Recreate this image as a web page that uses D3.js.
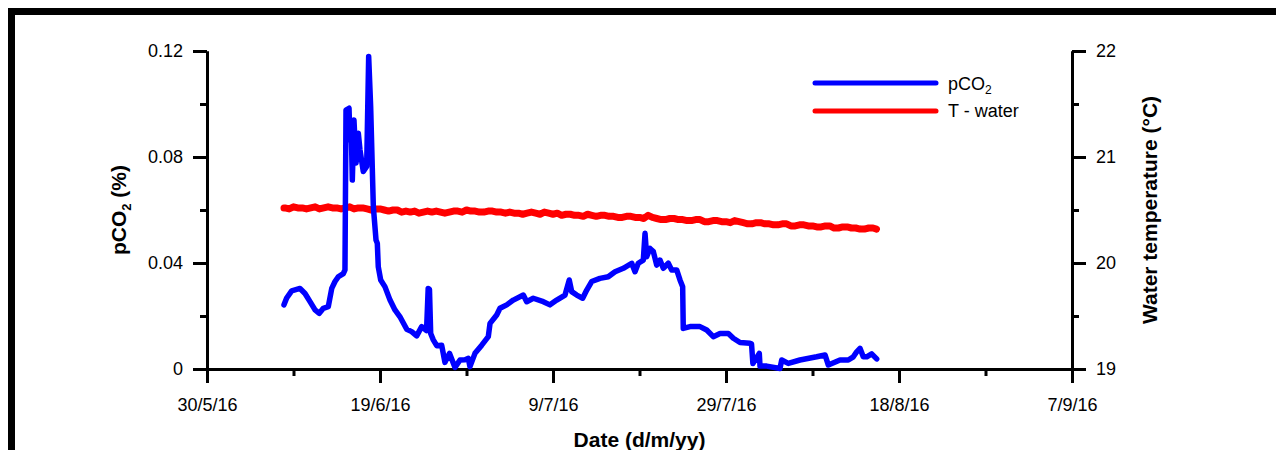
<!DOCTYPE html>
<html>
<head>
<meta charset="utf-8">
<script src="https://cdn.jsdelivr.net/npm/d3@7"></script>
<style>
  html, body { margin: 0; padding: 0; background: #fff; }
  svg { display: block; font-family: Arial, "Liberation Sans", sans-serif; }
</style>
</head>
<body>
<svg id="chart" width="1276" height="450"></svg>
<script>
// ---------------- DATA ----------------
const startDateStr = "2016-05-30";
const endDateStr = "2016-09-07";
const majorTickDates = ["2016-05-30", "2016-06-19", "2016-07-09", "2016-07-29", "2016-08-18", "2016-09-07"];
const minorTickDates = ["2016-06-09", "2016-06-29", "2016-07-19", "2016-08-08", "2016-08-28"];
const pco2Ticks = [0, 0.04, 0.08, 0.12];
const pco2MinorTicks = [0.02, 0.06, 0.10];
const tempTicks = [19, 20, 21, 22];
const tempMinorTicks = [19.5, 20.5, 21.5];

// pCO2 (%) : days since 30/5/16 and values
const pco2Days = [8.90, 9.21, 9.79, 10.75, 11.33, 11.91, 12.49, 12.98, 13.45, 14.02, 14.42, 14.80, 15.18, 15.76, 15.95,
  16.07, 16.42, 16.53, 16.65, 16.80, 16.99, 17.23, 17.49, 17.69, 18.07, 18.46, 18.69, 18.92, 19.23, 19.54, 19.69, 19.80,
  20.08, 20.58, 21.16, 21.73, 22.31, 22.51, 23.09, 23.66, 24.24, 24.82, 25.38, 25.57, 25.72, 25.86, 26.16, 26.56, 27.13,
  27.51, 28.03, 28.67, 29.25, 29.83, 30.21, 30.40, 30.98, 31.76, 32.52, 32.72, 33.49, 33.87, 34.65, 35.41, 36.57, 36.96,
  37.72, 38.88, 39.65, 40.43, 41.39, 41.88, 42.16, 42.74, 43.43, 43.90, 44.47, 45.43, 46.39, 47.17, 48.13, 49.10, 49.48,
  49.86, 50.44, 50.64, 50.83, 51.21, 51.60, 51.99, 52.37, 52.75, 53.33, 53.72, 54.30, 54.68, 54.99, 55.06, 55.84, 56.99,
  57.77, 58.53, 59.31, 60.27, 60.85, 61.62, 62.77, 62.95, 63.11, 63.85, 63.93, 64.71, 66.24, 66.44, 67.20, 68.55, 70.48,
  71.45, 71.83, 73.18, 74.14, 74.72, 75.11, 75.49, 75.87, 76.27, 76.84, 77.42];
const pco2Values = [0.0242, 0.0268, 0.0295, 0.0304, 0.0285, 0.0254, 0.0223, 0.0210, 0.0229, 0.0235, 0.0304, 0.0330, 0.0348, 0.0360, 0.0374,
  0.0977, 0.0984, 0.0864, 0.0940, 0.0713, 0.0940, 0.0777, 0.0890, 0.0826, 0.0745, 0.0764, 0.1179, 0.0990, 0.0612, 0.0487, 0.0474, 0.0386,
  0.0336, 0.0310, 0.0260, 0.0223, 0.0197, 0.0185, 0.0150, 0.0141, 0.0125, 0.0160, 0.0145, 0.0304, 0.0300, 0.0134, 0.0110, 0.0088, 0.0090,
  0.0025, 0.0059, 0.0006, 0.0034, 0.0035, 0.0040, 0.0009, 0.0059, 0.0090, 0.0122, 0.0172, 0.0204, 0.0229, 0.0242, 0.0260, 0.0279, 0.0254,
  0.0267, 0.0254, 0.0242, 0.0260, 0.0279, 0.0336, 0.0292, 0.0279, 0.0267, 0.0298, 0.0330, 0.0342, 0.0348, 0.0367, 0.0380, 0.0399, 0.0367,
  0.0399, 0.0411, 0.0512, 0.0424, 0.0455, 0.0443, 0.0392, 0.0411, 0.0380, 0.0399, 0.0374, 0.0374, 0.0336, 0.0310, 0.0153, 0.0160, 0.0160,
  0.0147, 0.0122, 0.0134, 0.0134, 0.0116, 0.0100, 0.0097, 0.0095, 0.0021, 0.0059, 0.0011, 0.0011, 0.0002, 0.0034, 0.0021, 0.0034, 0.0046,
  0.0053, 0.0015, 0.0034, 0.0034, 0.0046, 0.0065, 0.0078, 0.0046, 0.0046, 0.0057, 0.0038];

// Water temperature (°C): days since 30/5/16 and values
const tempDays = [8.9,
  9, 9.5, 10, 10.5, 11, 11.5, 12, 12.5, 13, 13.5, 14, 14.5, 15, 15.5, 16, 16.5, 17, 17.5, 18, 18.5,
  19, 19.5, 20, 20.5, 21, 21.5, 22, 22.5, 23, 23.5, 24, 24.5, 25, 25.5, 26, 26.5, 27, 27.5, 28, 28.5,
  29, 29.5, 30, 30.5, 31, 31.5, 32, 32.5, 33, 33.5, 34, 34.5, 35, 35.5, 36, 36.5, 37, 37.5, 38, 38.5,
  39, 39.5, 40, 40.5, 41, 41.5, 42, 42.5, 43, 43.5, 44, 44.5, 45, 45.5, 46, 46.5, 47, 47.5, 48, 48.5,
  49, 49.5, 50, 50.5, 51, 51.5, 52, 52.5, 53, 53.5, 54, 54.5, 55, 55.5, 56, 56.5, 57, 57.5, 58, 58.5,
  59, 59.5, 60, 60.5, 61, 61.5, 62, 62.5, 63, 63.5, 64, 64.5, 65, 65.5, 66, 66.5, 67, 67.5, 68, 68.5,
  69, 69.5, 70, 70.5, 71, 71.5, 72, 72.5, 73, 73.5, 74, 74.5, 75, 75.5, 76, 76.5, 77, 77.4];
const tempValues = [20.52,
  20.52, 20.51, 20.53, 20.52, 20.52, 20.51, 20.52, 20.53, 20.51, 20.52, 20.53, 20.52, 20.52, 20.51, 20.52, 20.53, 20.51, 20.52, 20.52, 20.51,
  20.50, 20.51, 20.51, 20.50, 20.49, 20.50, 20.50, 20.48, 20.49, 20.48, 20.49, 20.47, 20.48, 20.49, 20.48, 20.49, 20.48, 20.47, 20.48, 20.49,
  20.49, 20.48, 20.50, 20.49, 20.49, 20.48, 20.48, 20.49, 20.49, 20.48, 20.48, 20.47, 20.48, 20.47, 20.47, 20.46, 20.47, 20.48, 20.47, 20.46,
  20.48, 20.47, 20.46, 20.47, 20.45, 20.46, 20.46, 20.45, 20.45, 20.44, 20.46, 20.45, 20.44, 20.45, 20.45, 20.44, 20.44, 20.43, 20.43, 20.44,
  20.44, 20.43, 20.43, 20.42, 20.45, 20.43, 20.42, 20.41, 20.41, 20.42, 20.42, 20.41, 20.41, 20.40, 20.40, 20.41, 20.41, 20.39, 20.39, 20.40,
  20.40, 20.39, 20.39, 20.38, 20.40, 20.39, 20.38, 20.37, 20.37, 20.38, 20.38, 20.37, 20.37, 20.36, 20.36, 20.37, 20.37, 20.35, 20.35, 20.36,
  20.36, 20.35, 20.35, 20.34, 20.34, 20.35, 20.35, 20.33, 20.33, 20.34, 20.34, 20.33, 20.33, 20.32, 20.32, 20.33, 20.33, 20.32];

// ---------------- CHART ----------------
const parse = d3.timeParse("%Y-%m-%d");
const start = parse(startDateStr);
const dayToDate = d => new Date(start.getTime() + d * 86400000);

const svg = d3.select("#chart");
const plotLeft = 207, plotRight = 1072, plotTop = 51, plotBottom = 369;

const x = d3.scaleTime().domain([start, parse(endDateStr)]).range([plotLeft, plotRight]);
const yL = d3.scaleLinear().domain([0, 0.12]).range([plotBottom, plotTop]);
const yR = d3.scaleLinear().domain([19, 22]).range([plotBottom, plotTop]);

// frame
svg.append("path")
  .attr("d", `M11.5,460 V11.5 H1290`)
  .attr("fill", "none").attr("stroke", "#000").attr("stroke-width", 7);

const fmtDate = d3.timeFormat("%-d/%-m/%y");
const tickFont = "18px";

function styleAxis(g) {
  g.selectAll("path.domain").attr("stroke", "#000").attr("stroke-width", 3);
  g.selectAll(".tick line").attr("stroke", "#000").attr("stroke-width", 3);
  g.selectAll(".tick text").attr("fill", "#000").style("font-size", tickFont).style("font-family", "Arial, 'Liberation Sans', sans-serif");
}

// minor x ticks
const gxm = svg.append("g").attr("transform", `translate(0,${plotBottom})`)
  .call(d3.axisBottom(x).tickValues(minorTickDates.map(parse)).tickSize(7).tickSizeOuter(0).tickFormat(""));
styleAxis(gxm);
// major x
const gx = svg.append("g").attr("transform", `translate(0,${plotBottom})`)
  .call(d3.axisBottom(x).tickValues(majorTickDates.map(parse)).tickSize(14).tickSizeOuter(0).tickPadding(15).tickFormat(fmtDate));
styleAxis(gx);

// left axis
const gylm = svg.append("g").attr("transform", `translate(${plotLeft},0)`)
  .call(d3.axisLeft(yL).tickValues(pco2MinorTicks).tickSize(7).tickSizeOuter(0).tickFormat(""));
styleAxis(gylm);
const gyl = svg.append("g").attr("transform", `translate(${plotLeft},0)`)
  .call(d3.axisLeft(yL).tickValues(pco2Ticks).tickSize(14).tickSizeOuter(0).tickPadding(10)
    .tickFormat(d => d === 0 ? "0" : d3.format(".2f")(d)));
styleAxis(gyl);

// right axis
const gyrm = svg.append("g").attr("transform", `translate(${plotRight},0)`)
  .call(d3.axisRight(yR).tickValues(tempMinorTicks).tickSize(7).tickSizeOuter(0).tickFormat(""));
styleAxis(gyrm);
const gyr = svg.append("g").attr("transform", `translate(${plotRight},0)`)
  .call(d3.axisRight(yR).tickValues(tempTicks).tickSize(14).tickSizeOuter(0).tickPadding(10).tickFormat(d3.format("d")));
styleAxis(gyr);

// data lines
const pco2Data = pco2Days.map((d, i) => ({ t: dayToDate(d), v: pco2Values[i] }));
const tempData = tempDays.map((d, i) => ({ t: dayToDate(d), v: tempValues[i] }));

svg.append("path").datum(tempData)
  .attr("fill", "none").attr("stroke", "#ff0000").attr("stroke-width", 7)
  .attr("stroke-linejoin", "round").attr("stroke-linecap", "round")
  .attr("d", d3.line().x(d => x(d.t)).y(d => yR(d.v)));

svg.append("path").datum(pco2Data)
  .attr("fill", "none").attr("stroke", "#0000ff").attr("stroke-width", 5.5)
  .attr("stroke-linejoin", "round").attr("stroke-linecap", "round")
  .attr("d", d3.line().x(d => x(d.t)).y(d => yL(d.v)));

// titles
const lt = svg.append("text")
  .attr("transform", `translate(126,${(plotTop + plotBottom) / 2}) rotate(-90)`)
  .attr("text-anchor", "middle").style("font-size", "21px").style("font-weight", "bold");
lt.append("tspan").text("pCO");
lt.append("tspan").text("2").style("font-size", "13px").attr("dy", 5);
lt.append("tspan").text(" (%)").attr("dy", -5);

svg.append("text")
  .attr("transform", `translate(1157,${(plotTop + plotBottom) / 2}) rotate(-90)`)
  .attr("text-anchor", "middle").style("font-size", "21px").style("font-weight", "bold")
  .text("Water temperature (°C)");

svg.append("text")
  .attr("x", (plotLeft + plotRight) / 2).attr("y", 447)
  .attr("text-anchor", "middle").style("font-size", "21px").style("font-weight", "bold")
  .text("Date (d/m/yy)");

// legend
const legend = [
  { color: "#0000ff", y: 83 },
  { color: "#ff0000", y: 111 }
];
legend.forEach(l => {
  svg.append("line").attr("x1", 815).attr("x2", 936).attr("y1", l.y).attr("y2", l.y)
    .attr("stroke", l.color).attr("stroke-width", 5).attr("stroke-linecap", "round");
});
const l1 = svg.append("text").attr("x", 948).attr("y", 90).style("font-size", "18px");
l1.append("tspan").text("pCO");
l1.append("tspan").text("2").style("font-size", "12px").attr("dy", 4);
svg.append("text").attr("x", 948).attr("y", 117).style("font-size", "18px").text("T - water");
</script>
</body>
</html>
